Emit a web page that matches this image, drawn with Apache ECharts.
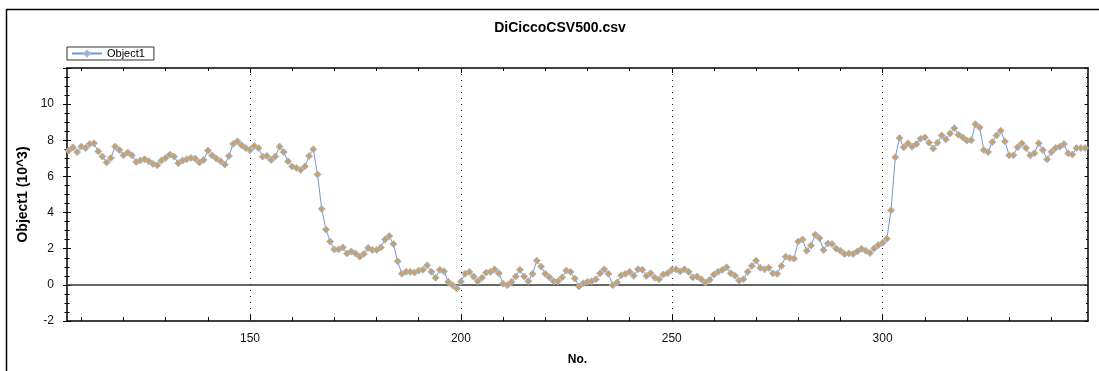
<!DOCTYPE html>
<html>
<head>
<meta charset="utf-8">
<script src="https://cdn.jsdelivr.net/npm/echarts@6/dist/echarts.min.js"></script>
<style>
html,body{margin:0;padding:0;background:#fff;}
#chart{width:1099px;height:371px;}
</style>
</head>
<body>
<div id="chart"></div>
<script>
// ---- Data ----
const chartTitle = 'DiCiccoCSV500.csv';
const seriesName = 'Object1';
const xAxisName = 'No.';
const yAxisName = 'Object1 (10^3)';

const noValues = [
  107,108,109,110,111,112,113,114,115,116,117,118,119,120,121,122,123,124,125,126,
  127,128,129,130,131,132,133,134,135,136,137,138,139,140,141,142,143,144,145,146,
  147,148,149,150,151,152,153,154,155,156,157,158,159,160,161,162,163,164,165,166,
  167,168,169,170,171,172,173,174,175,176,177,178,179,180,181,182,183,184,185,186,
  187,188,189,190,191,192,193,194,195,196,197,198,199,200,201,202,203,204,205,206,
  207,208,209,210,211,212,213,214,215,216,217,218,219,220,221,222,223,224,225,226,
  227,228,229,230,231,232,233,234,235,236,237,238,239,240,241,242,243,244,245,246,
  247,248,249,250,251,252,253,254,255,256,257,258,259,260,261,262,263,264,265,266,
  267,268,269,270,271,272,273,274,275,276,277,278,279,280,281,282,283,284,285,286,
  287,288,289,290,291,292,293,294,295,296,297,298,299,300,301,302,303,304,305,306,
  307,308,309,310,311,312,313,314,315,316,317,318,319,320,321,322,323,324,325,326,
  327,328,329,330,331,332,333,334,335,336,337,338,339,340,341,342,343,344,345,346,
  347,348
];

const object1Values = [
  7.43,7.61,7.35,7.65,7.57,7.80,7.83,7.39,7.10,6.77,7.02,7.65,7.46,7.17,7.32,7.17,6.80,6.88,6.95,6.84,
  6.69,6.62,6.88,7.02,7.21,7.10,6.73,6.88,6.95,7.02,6.99,6.77,6.91,7.43,7.17,6.99,6.84,6.66,7.13,7.80,
  7.94,7.72,7.57,7.46,7.68,7.57,7.10,7.13,6.91,7.10,7.65,7.35,6.84,6.55,6.47,6.36,6.55,7.13,7.50,6.11,
  4.20,3.06,2.40,1.96,1.96,2.07,1.74,1.85,1.74,1.56,1.71,2.04,1.93,1.93,2.07,2.51,2.70,2.26,1.30,0.61,
  0.72,0.72,0.68,0.79,0.83,1.08,0.72,0.39,0.83,0.75,0.17,-0.02,-0.20,0.17,0.61,0.72,0.46,0.20,0.39,0.68,
  0.72,0.86,0.64,0.06,-0.02,0.17,0.46,0.83,0.46,0.20,0.61,1.34,1.01,0.61,0.42,0.20,0.20,0.42,0.79,0.72,
  0.35,-0.09,0.09,0.17,0.20,0.31,0.64,0.86,0.61,-0.02,0.13,0.53,0.61,0.72,0.50,0.86,0.83,0.50,0.64,0.39,
  0.31,0.57,0.64,0.83,0.86,0.75,0.86,0.72,0.42,0.46,0.31,0.13,0.28,0.57,0.72,0.83,0.97,0.64,0.50,0.24,
  0.31,0.72,1.05,1.34,0.94,0.86,0.94,0.64,0.61,1.05,1.56,1.49,1.45,2.40,2.51,1.89,2.18,2.77,2.59,1.93,
  2.29,2.26,2.00,1.89,1.71,1.74,1.71,1.85,2.00,1.89,1.76,2.02,2.20,2.33,2.55,4.13,7.06,8.12,7.61,7.83,
  7.65,7.79,8.09,8.16,7.87,7.54,7.87,8.27,8.05,8.38,8.67,8.31,8.16,7.98,8.01,8.89,8.71,7.46,7.35,7.90,
  8.27,8.53,7.94,7.17,7.17,7.61,7.83,7.57,7.17,7.28,7.83,7.46,6.95,7.35,7.57,7.65,7.79,7.28,7.21,7.57,
  7.57,7.57
];

const xMajorTicks = [150,200,250,300];
const xMinorTicks = [110,120,130,140,150,160,170,180,190,200,210,220,230,240,250,260,270,280,290,300,310,320,330,340];
const yTickLabels = [-2,0,2,4,6,8,10];

// ---- Chart ----
const FONT = '"Liberation Sans", Arial, sans-serif';
const xMin = 106.6, xMax = 348.7;
const yMin = -2, yMax = 12;

const chart = echarts.init(document.getElementById('chart'), null, {renderer: 'canvas'});
const seriesData = noValues.map((n, i) => [n, object1Values[i]]);

const baseX = {
  type: 'value', min: xMin, max: xMax, gridIndex: 0,
  splitLine: {show: false},
  axisLine: {show: false, onZero: false},
  axisLabel: {show: false},
  axisTick: {show: false}
};
const baseY = {
  type: 'value', min: yMin, max: yMax, interval: 2, gridIndex: 0,
  splitLine: {show: false},
  axisLine: {show: false, onZero: false},
  axisLabel: {show: false},
  axisTick: {show: false}
};

const option = {
  backgroundColor: '#fff',
  animation: false,
  textStyle: {fontFamily: FONT},
  grid: {left: 67, right: 11, top: 68, bottom: 50, containLabel: false},
  legend: {
    show: true,
    data: [seriesName],
    left: 67, top: 47,
    orient: 'horizontal',
    borderColor: '#333', borderWidth: 1, borderRadius: 0,
    padding: [1, 9, 1, 4],
    itemWidth: 30, itemHeight: 7,
    textStyle: {fontSize: 11, color: '#000', fontFamily: FONT}
  },
  graphic: [
    {type: 'rect', silent: true, z: -1, shape: {x: 6.5, y: 9.5, width: 1200, height: 500},
     style: {fill: 'none', stroke: '#000', lineWidth: 1.5}},
    {type: 'text', silent: true, style: {text: chartTitle, x: 560, y: 28, textAlign: 'center', textVerticalAlign: 'middle',
      font: 'bold 14px ' + FONT, fill: '#000'}}
  ],
  xAxis: [
    Object.assign({}, baseX, {
      position: 'bottom',
      axisLine: {show: true, onZero: false, lineStyle: {color: '#000', width: 1.5}},
      axisTick: {show: true, inside: true, length: 4, customValues: xMinorTicks, lineStyle: {color: '#000', width: 1}}
    }),
    Object.assign({}, baseX, {
      position: 'bottom',
      axisTick: {show: true, inside: true, length: 7, customValues: xMajorTicks, lineStyle: {color: '#000', width: 1}},
      axisLabel: {show: true, customValues: xMajorTicks, margin: 12, fontSize: 12, color: '#111', fontFamily: FONT},
      name: xAxisName, nameLocation: 'middle', nameGap: 33,
      nameTextStyle: {fontSize: 12, fontWeight: 'bold', color: '#000', fontFamily: FONT}
    }),
    Object.assign({}, baseX, {
      position: 'top',
      axisLine: {show: true, onZero: false, lineStyle: {color: '#000', width: 1.5}},
      axisTick: {show: true, inside: true, length: 3, customValues: xMinorTicks, lineStyle: {color: '#000', width: 1}}
    }),
    Object.assign({}, baseX, {
      position: 'top',
      axisTick: {show: true, inside: true, length: 5, customValues: xMajorTicks, lineStyle: {color: '#000', width: 1}}
    })
  ],
  yAxis: [
    Object.assign({}, baseY, {
      position: 'left',
      axisLine: {show: true, onZero: false, lineStyle: {color: '#000', width: 1.5}},
      axisTick: {show: true, inside: false, length: 4, lineStyle: {color: '#000', width: 1}},
      minorTick: {show: true, splitNumber: 4, length: 2.5, lineStyle: {color: '#000', width: 1}},
      axisLabel: {show: true, customValues: yTickLabels, margin: 13, fontSize: 12, color: '#111', fontFamily: FONT},
      name: yAxisName, nameLocation: 'middle', nameGap: 36, nameRotate: 90,
      nameTextStyle: {fontSize: 14, fontWeight: 'bold', color: '#000', fontFamily: FONT}
    }),
    Object.assign({}, baseY, {
      position: 'left',
      axisTick: {show: true, inside: true, length: 4, lineStyle: {color: '#000', width: 1}},
      minorTick: {show: true, splitNumber: 4, length: 2.5, lineStyle: {color: '#000', width: 1}}
    }),
    Object.assign({}, baseY, {
      position: 'right',
      axisLine: {show: true, onZero: false, lineStyle: {color: '#000', width: 1.5}},
      axisTick: {show: true, inside: true, length: 3.5, lineStyle: {color: '#000', width: 1}},
      minorTick: {show: true, splitNumber: 4, length: 2, lineStyle: {color: '#000', width: 1}}
    })
  ],
  series: [{
    name: seriesName,
    type: 'line',
    xAxisIndex: 0, yAxisIndex: 0,
    data: seriesData,
    symbol: 'diamond',
    symbolSize: 7,
    showAllSymbol: true,
    lineStyle: {color: '#6a9ad4', width: 1},
    itemStyle: {color: '#cf9f60', borderColor: '#9bbbe6', borderWidth: 1},
    emphasis: {disabled: true},
    markLine: {
      silent: true,
      symbol: 'none',
      label: {show: false},
      animation: false,
      z: 1,
      data: [
        {yAxis: 0, lineStyle: {type: 'solid', color: '#333', width: 1.5}},
        {xAxis: 150, lineStyle: {type: [1, 5], color: '#222', width: 1}},
        {xAxis: 200, lineStyle: {type: [1, 5], color: '#222', width: 1}},
        {xAxis: 250, lineStyle: {type: [1, 5], color: '#222', width: 1}},
        {xAxis: 300, lineStyle: {type: [1, 5], color: '#222', width: 1}}
      ]
    }
  }]
};
chart.setOption(option);
</script>
</body>
</html>
